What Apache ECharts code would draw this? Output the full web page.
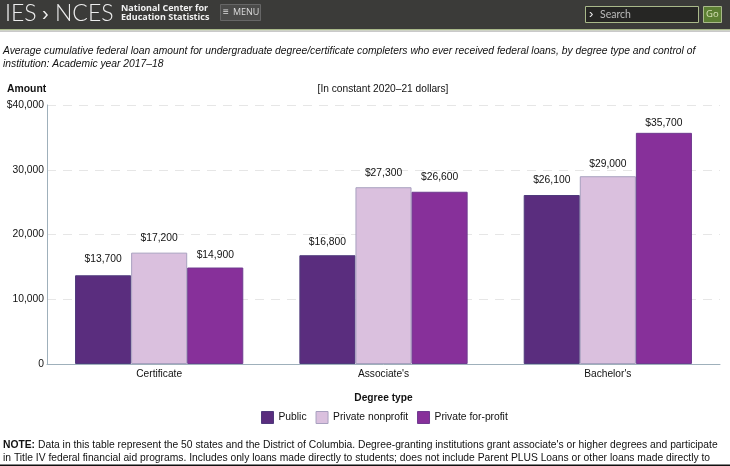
<!DOCTYPE html>
<html><head><meta charset="utf-8">
<style>html,body{margin:0;padding:0;background:#fff}#c{width:730px;height:466px}</style>
<script src="https://cdn.jsdelivr.net/npm/echarts@6/dist/echarts.min.js"></script>
</head><body><div id="c"></div>
<script>
const categories = ["Certificate", "Associate's", "Bachelor's"];
const publicValues = [13700, 16800, 26100];
const nonprofitValues = [17200, 27300, 29000];
const forprofitValues = [14900, 26600, 35700];
const seriesNames = ["Public", "Private nonprofit", "Private for-profit"];
const publicLabelGaps = [11, 8, 10];
const nonprofitLabelGaps = [9, 9, 7];
const forprofitLabelGaps = [7, 10, 5];
const titleLines = [
  "Average cumulative federal loan amount for undergraduate degree/certificate completers who ever received federal loans, by degree type and control of",
  "institution: Academic year 2017\u201318"];
const noteLines = [
  "Data in this table represent the 50 states and the District of Columbia. Degree-granting institutions grant associate's or higher degrees and participate",
  "in Title IV federal financial aid programs. Includes only loans made directly to students; does not include Parent PLUS Loans or other loans made directly to"];
const F = '"Liberation Sans", Arial, sans-serif';
const chart = echarts.init(document.getElementById('c'), null, {renderer:'canvas'});
const T = (x,y,text,o={}) => ({type:'text',x,y,silent:true,style:Object.assign({text,fill:'#111',font:`12px ${F}`,verticalAlign:'middle'},o)});
const R = (x,y,w,h,fill,stroke) => ({type:'rect',silent:true,shape:{x,y,width:w,height:h},style:{fill,stroke:stroke||null,lineWidth:stroke?1:0}});
const mk = (name,values,gaps,color,border) => ({
  name,type:'bar',barWidth:'25%',barGap:'0%',
  data:values.map((value,i)=>({value,label:{distance:gaps[i]}})),
  itemStyle:{color,borderColor:border,borderWidth:1},
  label:{show:true,position:'top',fontFamily:F,fontSize:10.3,color:'#111',
    formatter:p=>'$'+p.value.toLocaleString('en-US')}
});
chart.setOption({
  animation:false,
  backgroundColor:'#fff',
  textStyle:{fontFamily:F},
  grid:{left:47,right:10,top:105,bottom:102,containLabel:false},
  xAxis:{type:'category',data:categories,
    axisLine:{lineStyle:{color:'#9fb0bb',width:1}},axisTick:{show:false},
    axisLabel:{fontFamily:F,fontSize:10.2,color:'#111',margin:5},
    name:'Degree type',nameLocation:'middle',nameGap:29,
    nameTextStyle:{fontFamily:F,fontSize:10.2,fontWeight:'bold',color:'#111'}},
  yAxis:{type:'value',min:0,max:40000,interval:10000,
    axisLine:{show:true,lineStyle:{color:'#9fb0bb',width:1}},axisTick:{show:false},
    axisLabel:{fontFamily:F,fontSize:10.3,color:'#111',margin:3,
      formatter:v=>v===40000?'$40,000':v.toLocaleString('en-US')},
    splitLine:{show:true,lineStyle:{color:'#e6e6e6',type:[9,7],width:1}}},
  legend:{top:406,left:256,itemWidth:12,itemHeight:12,itemGap:9,itemStyle:{borderWidth:1},icon:'rect',
    textStyle:{fontFamily:F,fontSize:10.3,color:'#111'},data:seriesNames},
  series:[
    mk(seriesNames[0],publicValues,publicLabelGaps,'#5a2d7e','#4f3a7c'),
    mk(seriesNames[1],nonprofitValues,nonprofitLabelGaps,'#dac0de','#a8a0bf'),
    mk(seriesNames[2],forprofitValues,forprofitLabelGaps,'#87309a','#6f3a90')
  ],
  graphic:[
    R(0,0,730,29,'#3b3b39'),
    R(0,29,730,1.5,'#a9b98a'),
    R(0,30.5,730,1.5,'#c9c9c9'),
    T(5,14,'IES',{font:`300 23px Lato, ${F}`,fill:'#eee'}),
    T(42,14,'\u203a',{font:`20px ${F}`,fill:'#eee'}),
    T(55,14,'NCES',{font:`300 23px Lato, ${F}`,fill:'#eee'}),
    T(121,8,'National Center for',{font:`bold 9px "Open Sans", ${F}`,fill:'#f2f2f2'}),
    T(121,17,'Education Statistics',{font:`bold 9px "Open Sans", ${F}`,fill:'#f2f2f2'}),
    {type:'rect',silent:true,shape:{x:220.5,y:4.5,width:40,height:16},style:{fill:'#4b4b4a',stroke:'#666',lineWidth:1}},
    T(223,12.5,'\u2261',{font:`10px "Open Sans", ${F}`,fill:'#ddd'}),
    T(233,12.5,'MENU',{font:`9px "Open Sans", ${F}`,fill:'#ddd'}),
    {type:'rect',silent:true,shape:{x:585.5,y:6.5,width:113,height:16},style:{fill:'#262624',stroke:'#a9b98a',lineWidth:1}},
    T(589,14.5,'\u203a',{font:`13px ${F}`,fill:'#eee'}),
    T(600,14.5,'Search',{font:`10.5px Lato, ${F}`,fill:'#bbb'}),
    {type:'rect',silent:true,shape:{x:703.5,y:6.5,width:18,height:16},style:{fill:'#5c7f33',stroke:'#a9b98a',lineWidth:1}},
    T(706,14.5,'Go',{font:`9.5px "Open Sans", ${F}`,fill:'#d5e0b5'}),
    T(3,51,titleLines[0],{font:`italic 10.32px ${F}`}),
    T(3,64,titleLines[1],{font:`italic 10.32px ${F}`}),
    T(7,89,'Amount',{font:`bold 10.4px ${F}`}),
    T(383,89,'[In constant 2020\u201321 dollars]',{font:`10.2px ${F}`,align:'center'}),
    T(3,445,'NOTE:',{font:`bold 10.3px ${F}`}),
    T(38,445,noteLines[0],{font:`10.3px ${F}`}),
    T(3,458,noteLines[1],{font:`10.3px ${F}`}),
    R(0,464.5,730,1.5,'#111')
  ]
});
</script></body></html>
